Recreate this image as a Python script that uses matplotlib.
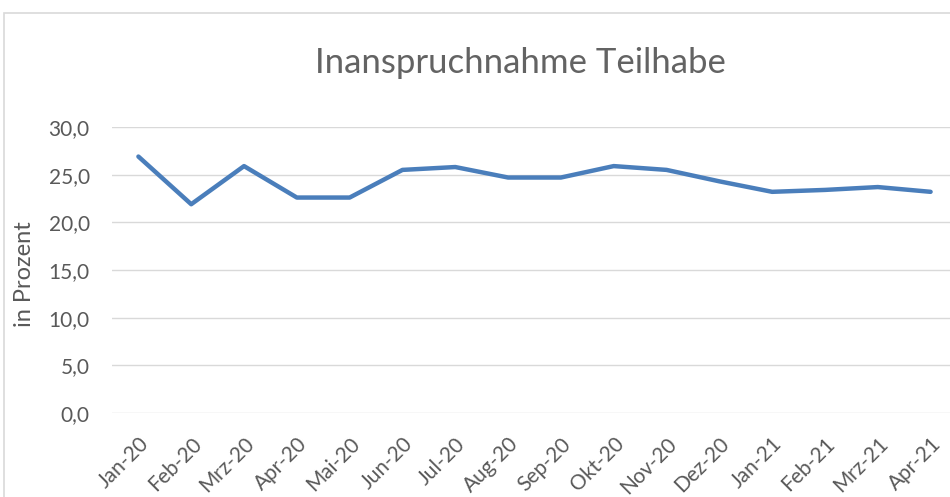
import matplotlib
matplotlib.use("Agg")
import matplotlib.pyplot as plt
from matplotlib.patches import Rectangle
from matplotlib.ticker import FuncFormatter

months = ["Jan-20", "Feb-20", "Mrz-20", "Apr-20", "Mai-20", "Jun-20", "Jul-20", "Aug-20",
          "Sep-20", "Okt-20", "Nov-20", "Dez-20", "Jan-21", "Feb-21", "Mrz-21", "Apr-21"]
values = [26.9, 21.9, 25.9, 22.6, 22.6, 25.5, 25.8, 24.7,
          24.7, 25.9, 25.5, 24.3, 23.2, 23.4, 23.7, 23.2]
y_ticks = [0, 5, 10, 15, 20, 25, 30]

W, H = 950, 497
fig = plt.figure(figsize=(W / 100, H / 100), dpi=100)
font = ["Lato", "DejaVu Sans"]
txt = "#595959"

# chart border
fig.patches.append(Rectangle((4 / W, -0.1), 1.2, (H - 13) / H + 0.1, transform=fig.transFigure,
                             fill=False, edgecolor="#d9d9d9", linewidth=1.2))

left, right = 112 / W, 957 / W
bottom, top = (H - 413) / H, (H - 127) / H
ax = fig.add_axes([left, bottom, right - left, top - bottom])

x = list(range(len(months)))
ax.plot(x, values, color="#4a7ebb", linewidth=3.2, solid_joinstyle="round",
        solid_capstyle="round", zorder=3)

ax.set_xlim(-0.5, len(months) - 0.5)
ax.set_ylim(0, 30)
ax.set_yticks(y_ticks)
ax.yaxis.set_major_formatter(FuncFormatter(lambda v, p: f"{v:.1f}".replace(".", ",")))
ax.grid(axis="y", color="#d9d9d9", linewidth=1.0)
ax.set_axisbelow(True)
for s in ax.spines.values():
    s.set_visible(False)
ax.tick_params(axis="y", length=0, pad=16, labelsize=15, labelcolor=txt)
ax.set_xticks(x)
ax.set_xticklabels(months, rotation=45, ha="right", rotation_mode="anchor",
                   fontsize=15, color=txt, family=font)
ax.tick_params(axis="x", length=0, pad=15)
for lab in ax.get_yticklabels():
    lab.set_family(font)

fig.text(25 / W, 1 - 274 / H, "in Prozent", rotation=90, ha="center", va="center",
         fontsize=17, color=txt, family=font)
fig.text(520 / W, 1 - 73 / H, "Inanspruchnahme Teilhabe", ha="center", va="baseline",
         fontsize=25, color="#636363", family=font)

fig.savefig("out.png", dpi=100)
